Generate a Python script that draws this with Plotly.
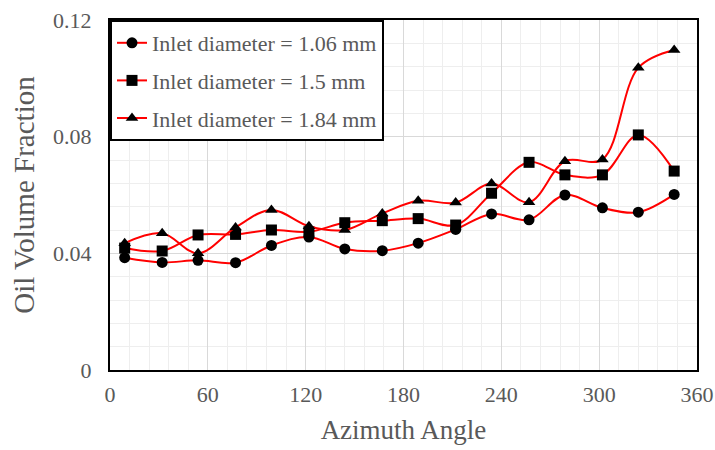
import plotly.graph_objects as go

# azimuth positions of the probes (deg)
angles = [9, 32, 54, 77, 99, 122, 144, 167, 189, 212, 234, 257, 279, 302, 324, 346]

# oil volume fraction per inlet diameter
oil_106 = [0.0385, 0.0369, 0.0376, 0.0368, 0.0427, 0.0456, 0.0415, 0.0409,
           0.0435, 0.0482, 0.0535, 0.0515, 0.0600, 0.0556, 0.0541, 0.0602]
oil_150 = [0.0418, 0.0408, 0.0463, 0.0465, 0.0480, 0.0474, 0.0505, 0.0512,
           0.0519, 0.0497, 0.0606, 0.0712, 0.0669, 0.0669, 0.0806, 0.0682]
oil_184 = [0.0435, 0.0469, 0.0400, 0.0489, 0.0549, 0.0493, 0.0480, 0.0537,
           0.0580, 0.0574, 0.0639, 0.0575, 0.0716, 0.0722, 0.1036, 0.1097]

series = [
    ("Inlet diameter = 1.06 mm", oil_106, "circle"),
    ("Inlet diameter = 1.5 mm", oil_150, "square"),
    ("Inlet diameter = 1.84 mm", oil_184, "triangle-up"),
]

FONT = "Liberation Serif"
GREY = "#595959"

fig = go.Figure()
for i, (name, vals, sym) in enumerate(series):
    fig.add_trace(go.Scatter(
        x=angles, y=vals, name=name, mode="lines+markers", legendgroup=f"g{i}",
        line=dict(color="#ff0000", width=2, shape="spline", smoothing=1),
        marker=dict(symbol=sym, size=11, color="black"),
    ))

axis_common = dict(
    showline=True, linecolor="black", linewidth=2, mirror=True, automargin=False,
    gridcolor="#d9d9d9", gridwidth=1, zeroline=False, ticks="",
    ticklabeloverflow="allow",
    tickfont=dict(family=FONT, size=22, color=GREY),
)

fig.update_xaxes(
    range=[0, 360], dtick=60, tick0=0,
    minor=dict(dtick=12, showgrid=True, gridcolor="#eeeeee"),
    title=dict(text="Azimuth Angle", font=dict(family=FONT, size=27, color=GREY), standoff=14),
    ticklabelstandoff=4,
    **axis_common,
)
fig.update_yaxes(
    range=[0, 0.12], dtick=0.04, tick0=0,
    minor=dict(dtick=0.008, showgrid=True, gridcolor="#eeeeee"),
    title=dict(text="Oil Volume Fraction", font=dict(family=FONT, size=29, color=GREY), standoff=10),
    ticklabelstandoff=12,
    **axis_common,
)

fig.update_layout(
    width=715, height=450,
    margin=dict(l=110, r=18, t=20, b=80),
    paper_bgcolor="white", plot_bgcolor="white",
    font=dict(family=FONT, color=GREY),
    legend=dict(
        x=0, y=1, xanchor="left", yanchor="top",
        bgcolor="white", bordercolor="black", borderwidth=2,
        traceorder="grouped", tracegroupgap=6,
        font=dict(family=FONT, size=22, color=GREY),
    ),
)

# drop the browser's default body margin so the figure fills the window
fig.write_html(
    "out.html",
    config={"displayModeBar": False},
    post_script="document.body.style.margin='0';document.body.style.overflow='hidden';",
)
